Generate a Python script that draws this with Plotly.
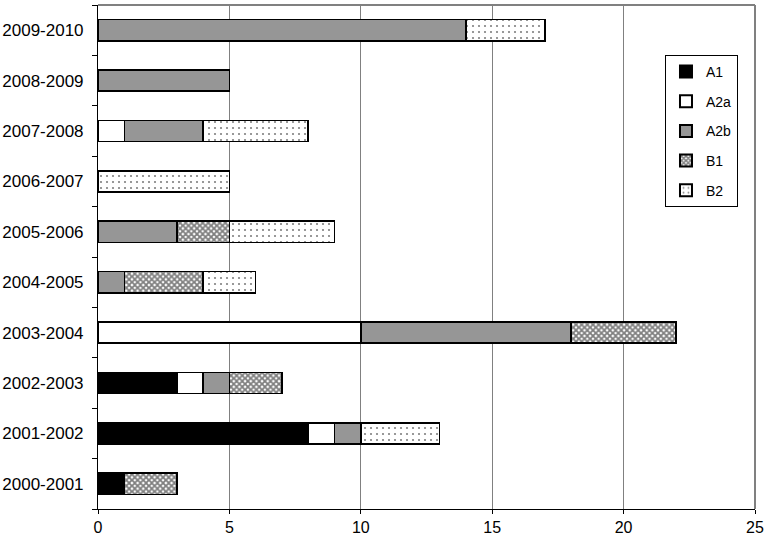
import plotly.graph_objects as go

categories = ["2000-2001", "2001-2002", "2002-2003", "2003-2004", "2004-2005",
              "2005-2006", "2006-2007", "2007-2008", "2008-2009", "2009-2010"]
a1 = [1, 8, 3, 0, 0, 0, 0, 0, 0, 0]
a2a = [0, 1, 1, 10, 0, 0, 0, 1, 0, 0]
a2b = [0, 1, 1, 8, 1, 3, 0, 3, 5, 14]
b1 = [2, 0, 2, 4, 3, 2, 0, 0, 0, 0]
b2 = [0, 3, 0, 0, 2, 4, 5, 4, 0, 3]
x_ticks = [0, 5, 10, 15, 20, 25]

series = [
    ("A1", a1, dict(color="#000000")),
    ("A2a", a2a, dict(color="#ffffff")),
    ("A2b", a2b, dict(color="#969696")),
    ("B1", b1, dict(color="#ffffff", pattern=dict(shape="x", fgcolor="#000000", size=4, solidity=0.7))),
    ("B2", b2, dict(color="#ffffff", pattern=dict(shape=".", fgcolor="#000000", size=6, solidity=0.1))),
]

fig = go.Figure()
for name, vals, mk in series:
    marker = dict(mk)
    marker["line"] = dict(color="#000000", width=1.5)
    fig.add_trace(go.Bar(y=categories, x=vals, name=name, orientation="h",
                         marker=marker, width=0.42, legendgroup=name))

fig.update_layout(
    barmode="stack",
    width=766, height=544,
    margin=dict(l=98, r=11, t=5, b=35),
    paper_bgcolor="white", plot_bgcolor="white",
    font=dict(family="Liberation Sans, Arial, sans-serif", size=16, color="#000000"),
    legend=dict(x=0.863, y=0.901, xanchor="left", yanchor="top",
                bordercolor="#000000", borderwidth=1, bgcolor="white",
                font=dict(size=14), itemsizing="constant", tracegroupgap=8.5,
                traceorder="grouped", itemwidth=30),
    bargap=0.58,
)
fig.update_xaxes(range=[0, 25], tickvals=x_ticks, showgrid=True, gridcolor="#808080",
                 gridwidth=1, showline=True, linecolor="#000000", linewidth=1,
                 ticks="outside", ticklen=4, tickcolor="#000000", mirror=False,
                 zeroline=False, automargin=False, tickfont=dict(size=16))
fig.update_yaxes(type="category", categoryorder="array", categoryarray=categories,
                 tickson="boundaries", ticks="outside", ticklen=5, tickcolor="#000000",
                 showline=True, linecolor="#000000", linewidth=1, showgrid=False,
                 automargin=False, tickfont=dict(size=17), ticklabelstandoff=10)
fig.add_shape(type="line", xref="paper", yref="paper", x0=0, x1=1, y0=1, y1=1,
              line=dict(color="#808080", width=2))
fig.add_shape(type="line", xref="paper", yref="paper", x0=1, x1=1, y0=0, y1=1,
              line=dict(color="#808080", width=2))

fig.write_html("out.html", config={"displayModeBar": False},
               post_script="document.body.style.margin='0';")
